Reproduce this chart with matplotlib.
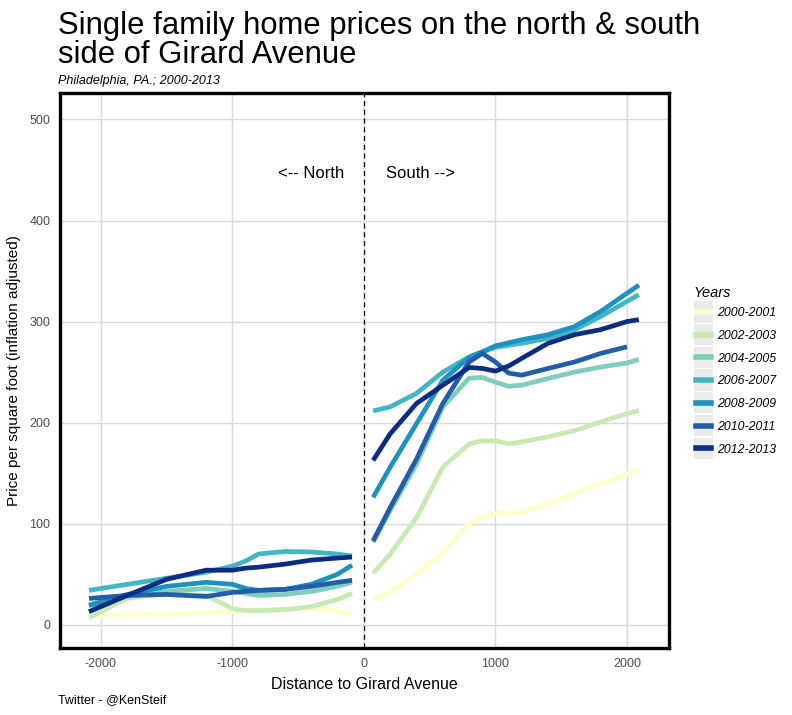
import matplotlib.pyplot as plt
from matplotlib.patches import Rectangle
from matplotlib.lines import Line2D
from matplotlib.legend_handler import HandlerBase

plt.rcParams["font.family"] = ["Liberation Sans", "DejaVu Sans"]
plt.rcParams["axes.unicode_minus"] = False

years = ["2000-2001", "2002-2003", "2004-2005", "2006-2007",
         "2008-2009", "2010-2011", "2012-2013"]
colors = ["#ffffcc", "#c7e9b4", "#7fcdbb", "#41b6c4",
          "#1d91c0", "#225ea8", "#0c2c84"]

# north side of the avenue (negative distance)
north_x = [-2090, -1800, -1500, -1200, -1000, -900, -800, -600, -400, -200, -90]
north_y = {
    "2000-2001": [9, 10, 10.6, 11.6, 13, 13.5, 14, 15.6, 15.9, 14, 10],
    "2002-2003": [7, 26, 31, 29, 16, 14, 14, 15, 18, 25, 31],
    "2004-2005": [20, 28, 33, 36, 33, 31, 29, 30, 33, 38, 42],
    "2006-2007": [34, 40, 46, 52, 58, 63, 70, 72.5, 72, 70, 68],
    "2008-2009": [19, 30, 38, 42, 40, 36, 34, 35, 40, 50, 59],
    "2010-2011": [26, 29, 30, 28, 32, 33, 34, 35, 38, 42, 44],
    "2012-2013": [13, 29, 45, 54, 54, 56, 57, 60, 64, 66, 67],
}

# south side of the avenue (positive distance)
south_x = [70, 200, 400, 600, 800, 900, 1000, 1100, 1200, 1400, 1600, 1800, 2000, 2090]
south_y = {
    "2000-2001": [25, 32, 50, 71.5, 100, 106.5, 110, 111, 111, 119.5, 129.5, 139.5, 149, 154],
    "2002-2003": [50.7, 70, 106, 156, 179, 182, 182, 179, 181, 186, 192, 200.7, 209, 212],
    "2004-2005": [81.5, 113, 159, 215.6, 244, 244.7, 240, 236, 237, 243.7, 250, 255, 259, 262.6],
    "2006-2007": [211.6, 215.6, 229, 250, 265, 270, 274.5, 276.5, 278.5, 283.4, 291.7, 305, 320, 326.5],
    "2008-2009": [126, 156, 199, 242, 264.6, 270, 276, 279, 282, 287, 295, 310, 328, 336],
    "2010-2011": [83, 116, 164, 219, 260, 268.5, 260, 249, 247, 253.6, 260, 268.5, 275, 277],
    "2012-2013": [162.6, 189, 219, 237, 254.6, 253.6, 251, 256, 263.6, 278.5, 287, 292, 300, 302],
}


class KeyHandler(HandlerBase):
    # grey key box with a centred line, like ggplot's legend keys
    def create_artists(self, legend, orig_handle, xdescent, ydescent,
                       width, height, fontsize, trans):
        x0 = -xdescent
        yc = 0.36 * fontsize
        box = Rectangle((x0, yc - height / 2), width, height, facecolor="#ebebeb",
                        edgecolor="none", transform=trans)
        line = Line2D([x0 + 0.1 * width, x0 + 0.9 * width], [yc, yc],
                      color=orig_handle.get_color(), lw=4, transform=trans)
        return [box, line]


fig = plt.figure(figsize=(7.92, 7.15), dpi=100)
ax = fig.add_axes([0.0758, 0.0937, 0.769, 0.776])

for year, color in zip(years, colors):
    ax.plot(north_x, north_y[year], color=color, lw=3.4, solid_capstyle="butt", zorder=3)
    sx, sy = south_x, south_y[year]
    if year == "2010-2011":
        sx, sy = south_x[:-1], sy[:-1]
    ax.plot(sx, sy, color=color, lw=3.4, solid_capstyle="butt", zorder=3)

ax.axvline(0, color="black", lw=0.9, ls=(0, (4, 3)), zorder=4)

ax.text(-400, 447, "<-- North", ha="center", va="center", fontsize=12)
ax.text(430, 447, "South -->", ha="center", va="center", fontsize=12)

ax.set_xlim(-2310, 2320)
ax.set_ylim(-23, 526)
ax.set_xticks([-2000, -1000, 0, 1000, 2000])
ax.set_yticks([0, 100, 200, 300, 400, 500])
ax.grid(True, color="#d9d9d9", lw=1)
ax.set_axisbelow(True)
ax.tick_params(length=0, labelsize=9, labelcolor="#4d4d4d", pad=7)
for s in ax.spines.values():
    s.set_linewidth(2.4)
    s.set_color("black")

ax.set_xlabel("Distance to Girard Avenue", fontsize=11.5, labelpad=5)
ax.set_ylabel("Price per square foot (inflation adjusted)", fontsize=11, labelpad=6)

fig.text(0.073, 0.985, "Single family home prices on the north & south\nside of Girard Avenue",
         fontsize=22.3, va="top", ha="left", linespacing=0.98)
fig.text(0.073, 0.882, "Philadelphia, PA.; 2000-2013", fontsize=9, style="italic")
fig.text(0.073, 0.016, "Twitter - @KenSteif", fontsize=9)

handles = [Line2D([], [], color=c) for c in colors]
leg = fig.legend(handles, years, loc="upper left", bbox_to_anchor=(0.868, 0.608),
                 title="Years", frameon=False, handler_map={Line2D: KeyHandler()},
                 handlelength=1.6, handleheight=2.3, handletextpad=0.3, labelspacing=0.12,
                 prop={"size": 8.8, "style": "italic"}, borderpad=0)
leg.get_title().set_fontsize(10.5)
leg.get_title().set_style("italic")
leg._legend_box.align = "left"

fig.savefig("out.png", dpi=100)
